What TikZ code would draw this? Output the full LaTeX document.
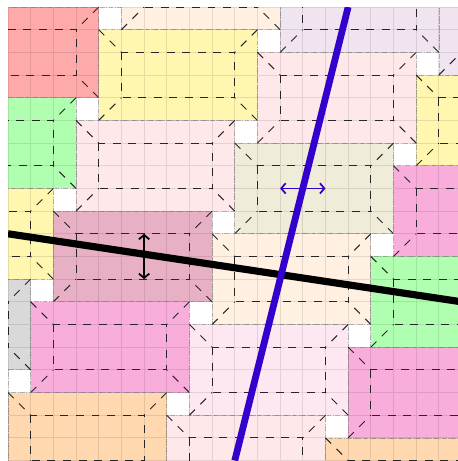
\documentclass[tikz,border=0pt]{standalone}
\usetikzlibrary{arrows.meta}
\definecolor{cRed}{HTML}{FFAAAA}
\definecolor{cYel}{HTML}{FFF7B0}
\definecolor{cPeL}{HTML}{FFF0E2}
\definecolor{cLav}{HTML}{F0E4F0}
\definecolor{cPkA}{HTML}{FFE8EA}
\definecolor{cGrn}{HTML}{B0FFB0}
\definecolor{cOli}{HTML}{EFECDA}
\definecolor{cMag}{HTML}{F9ADDB}
\definecolor{cMau}{HTML}{E8B0C4}
\definecolor{cGry}{HTML}{D9D9D9}
\definecolor{cPeO}{HTML}{FFD8B0}
\definecolor{cPkB}{HTML}{FDE8F2}
\definecolor{cBlue}{HTML}{3300CC}
\tikzset{
  tilefill/.style={fill=#1},
  gridline/.style={draw=black, opacity=0.1, line width=1pt},
  outerborder/.style={draw=gray, opacity=0.55, line width=0.9pt, dash pattern=on 6pt off 2pt on 1pt off 2pt},
  innerdash/.style={draw=black!85, line width=1.2pt, dash pattern=on 10pt off 9.5pt},
  thickblack/.style={draw=black, line width=9pt},
  thickblue/.style={draw=cBlue, line width=8.5pt},
  dblarrow/.style={line width=2.2pt, {Straight Barb[length=5.5pt,width=13pt]}-{Straight Barb[length=5.5pt,width=13pt]}}
}
\begin{document}
\begin{tikzpicture}[x=1cm,y=-1cm]
\useasboundingbox (-0.353,-0.309) rectangle (19.80,20.02);
\begin{scope}
\clip (0,0) rectangle (20,20);
\foreach \a/\b/\c in {-3/0/cRed, 4/1/cYel, 11/2/cPkA, 18/3/cYel,
  -2/-4/cPeL, 5/-3/cPeL, 12/-2/cLav, 19/-1/cLav,
  -4/4/cGrn, 3/5/cPkA, 10/6/cOli, 17/7/cMag,
  -5/8/cYel, 2/9/cMau, 9/10/cPeL, 16/11/cGrn,
  -6/12/cGry, 1/13/cMag, 8/14/cPkB, 15/15/cMag,
  -7/16/cPeO, 0/17/cPeO, 7/18/cPkA, 14/19/cPeO}{
  \fill[tilefill=\c] (\a,\b) rectangle ++(7,4);
}
\draw[gridline] (0,0) grid (20,20);
\foreach \a/\b in {-3/0, 4/1, 11/2, 18/3,
  -2/-4, 5/-3, 12/-2, 19/-1,
  -4/4, 3/5, 10/6, 17/7,
  -5/8, 2/9, 9/10, 16/11,
  -6/12, 1/13, 8/14, 15/15,
  -7/16, 0/17, 7/18, 14/19}{
  \draw[outerborder] (\a,\b) rectangle ++(7,4);
  \draw[innerdash] (\a+1,\b+1) rectangle ++(5,2);
  \draw[innerdash] (\a,\b) -- ++(1,1);
  \draw[innerdash] (\a+7,\b) -- ++(-1,1);
  \draw[innerdash] (\a,\b+4) -- ++(1,-1);
  \draw[innerdash] (\a+7,\b+4) -- ++(-1,-1);
}
\coordinate (bA) at (0,10);
\coordinate (bB) at (20,13);
\coordinate (uA) at (15,0);
\coordinate (uB) at (10,20);
\draw[thickblack] (bA) -- (bB);
\draw[thickblue] (uA) -- (uB);
\end{scope}
\coordinate (hA) at (12,8);
\coordinate (hB) at (14,8);
\coordinate (vA) at (6,10);
\coordinate (vB) at (6,12);
\draw[dblarrow, cBlue] (hA) -- (hB);
\draw[dblarrow, black] (vA) -- (vB);
\end{tikzpicture}
\end{document}
